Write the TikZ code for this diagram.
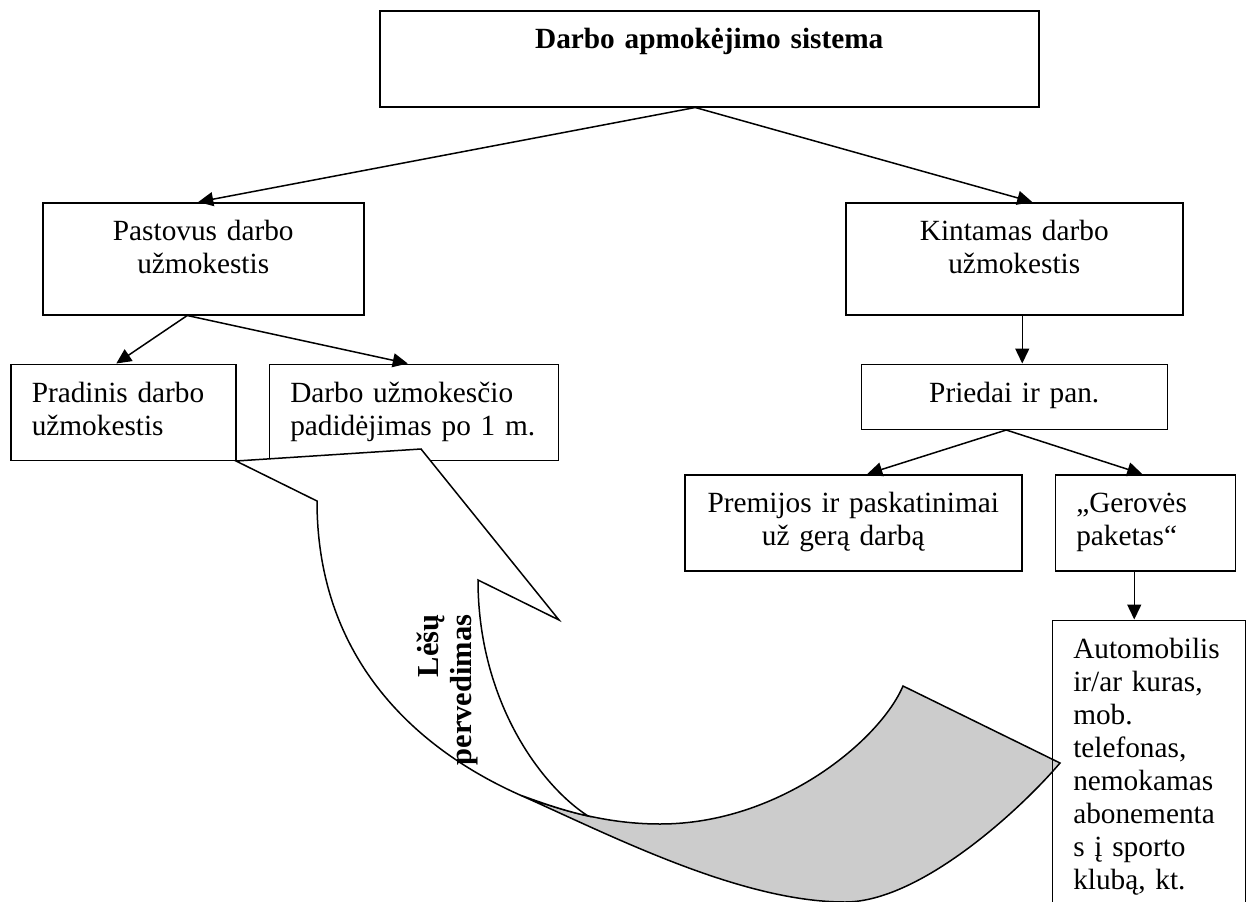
\documentclass[tikz,border=0pt]{standalone}
\usepackage{fontspec}
\setmainfont{Liberation Serif}
\usetikzlibrary{arrows.meta,positioning}

\begin{document}
\begin{tikzpicture}[
    x=1pt, y=-1pt,
    font=\fontsize{29.3}{33}\selectfont,
    box/.style={draw, line width=1.5pt, inner xsep=10pt, inner ysep=0pt,
                text height=38pt, align=center},
    leftbox/.style={box, align=left, inner xsep=21pt},
    arr/.style={-{Triangle[length=15pt,width=14pt]}, line width=1.5pt},
    bandback/.style={draw, line width=1.5pt, fill=gray!40},
    bandfront/.style={draw, line width=1.5pt, fill=white}
]
\useasboundingbox (0,0) rectangle (1248,902);

% -- Row 1: whole system
\node[box, anchor=north west, text width=639pt, text depth=58pt] (sistema) at (379,10)
  {\bfseries Darbo apmokėjimo sistema};

% -- Row 2: fixed and variable pay
\node[box, anchor=north west, text width=301pt, text depth=74pt] (pastovus) at (42,202)
  {Pastovus darbo\\ užmokestis};
\node[box, anchor=north west, text width=317pt, text depth=74pt] (kintamas) at (845,202)
  {Kintamas darbo\\ užmokestis};

% -- Row 3: fixed pay parts
\node[leftbox, below=48pt of pastovus.south west, anchor=north west, xshift=-32pt,
      text width=183pt, text depth=58pt] (pradinis)
  {Pradinis darbo\\ užmokestis};
\node[leftbox, right=32pt of pradinis.north east, anchor=north west,
      text width=247pt, text depth=58pt] (padidejimas)
  {Darbo užmokesčio\\ padidėjimas po 1 m.};

% -- Row 3: variable pay
\node[box, below=48pt of kintamas, text width=286pt, text depth=27pt] (priedai)
  {Priedai ir pan.};

% -- Row 4: bonuses and welfare package
\node[box, anchor=north west, text width=317pt, text depth=58pt] (premijos) at (684,474)
  {Premijos ir paskatinimai\\ \hspace*{-20pt}už gerą darbą};
\node[leftbox, right=32pt of premijos.north east, anchor=north west,
      text width=138pt, text depth=58pt] (gerove)
  {„Gerovės\\ paketas“};

% -- arrows
\draw[arr] ([xshift=-14pt]sistema.south) -- ([xshift=-5pt]pastovus.north);
\draw[arr] ([xshift=-14pt]sistema.south) -- ([xshift=18pt]kintamas.north);
\draw[arr] ([xshift=-16pt]pastovus.south) -- ([xshift=-7pt]pradinis.north);
\draw[arr] ([xshift=-16pt]pastovus.south) -- ([xshift=-6pt]padidejimas.north);
\draw[arr] ([xshift=8pt]kintamas.south) -- ([xshift=8pt]kintamas.south |- priedai.north);
\draw[arr] ([xshift=-8pt]priedai.south) -- ([xshift=14pt]premijos.north);
\draw[arr] ([xshift=-8pt]priedai.south) -- ([xshift=-3pt]gerove.north);

% -- curved transfer arrow (back band, then front band)
\draw[bandback] (520,795) .. controls (610,835) and (740,902) .. (845,902)
  .. controls (920,902) and (1020,810) .. (1060,763) -- (903,686)
  .. controls (880,740) and (780,824) .. (660,824)
  .. controls (610,824) and (565,812) .. cycle;
\draw[bandfront] (236,461) -- (421,449) -- (559,620) -- (478,580)
  .. controls (478,700) and (540,785) .. (588,816)
  .. controls (565,811) and (542,803) .. (520,795)
  .. controls (430,755) and (317,670) .. (317,501) -- cycle;
\node[rotate=90, align=right, font=\fontsize{30.5}{33}\selectfont\bfseries] (lesos) at (447,690)
  {Lėšų\\ pervedimas};

% -- Row 5: welfare package items
\node[leftbox, below=48pt of gerove.south west, anchor=north west, xshift=-3pt,
      text width=151pt, text depth=264pt] (automobilis)
  {Automobilis\\ ir/ar kuras,\\ mob.\\ telefonas,\\ nemokamas\\ abonementa\\ s į sporto\\ klubą, kt.};
\draw[arr] ([xshift=-11pt]gerove.south) -- ([xshift=-11pt]gerove.south |- automobilis.north);

\end{tikzpicture}
\end{document}
